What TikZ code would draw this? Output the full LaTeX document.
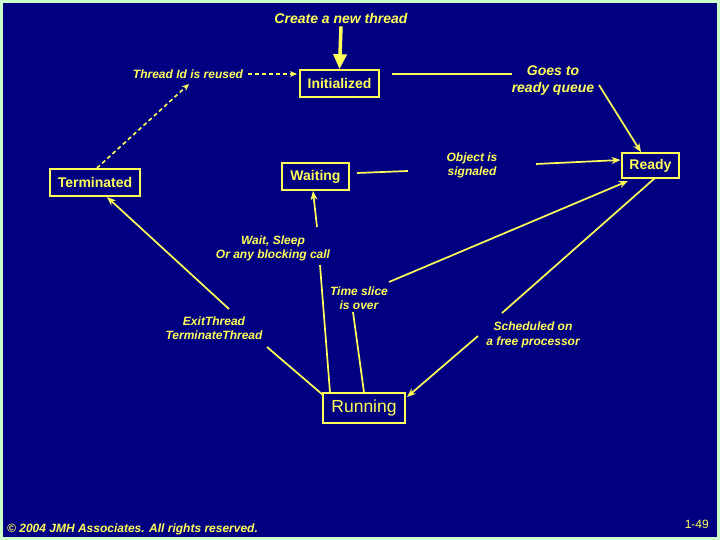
\documentclass[tikz,border=0pt]{standalone}
\usepackage{fontspec}
\setmainfont{Liberation Sans}
\usetikzlibrary{arrows.meta}
\definecolor{navy}{RGB}{0,0,128}
\definecolor{ylw}{RGB}{255,255,90}
\definecolor{pgreen}{RGB}{204,255,204}
\begin{document}
\begin{tikzpicture}[x=1pt,y=-1pt,
  statebox/.style={draw=ylw,line width=1.6pt,text=ylw,inner sep=0pt,font=\fontsize{14}{16}\selectfont\bfseries},
  lbl/.style={text=ylw,align=center,inner sep=1pt,font=\fontsize{12}{14.5}\selectfont\bfseries\itshape},
  conn/.style={draw=ylw,line width=1.7pt},
  arr/.style={conn,-{Stealth[length=9pt,width=7pt]}},
  darr/.style={draw=ylw,line width=1.6pt,dash pattern=on 4pt off 3pt,-{Stealth[length=7pt,width=6pt]}}]
\useasboundingbox (0,0) rectangle (720,540);
\fill[pgreen] (0,0) rectangle (720,540);
\fill[navy] (3,3) rectangle (717,537);

% states
\node[statebox,minimum width=79pt,minimum height=27pt] (init) at (339.5,83.5) {Initialized};
\node[statebox,minimum width=57pt,minimum height=25pt] (ready) at (650.5,165.5) {Ready};
\node[statebox,minimum width=67pt,minimum height=27pt] (wait) at (315.5,176.5) {Waiting};
\node[statebox,minimum width=90pt,minimum height=27pt] (term) at (95,182.5) {Terminated};
\node[statebox,minimum width=82pt,minimum height=30pt,font=\fontsize{17.5}{19}\selectfont] (run) at (364,408) {Running};

% labels
\node[lbl,font=\fontsize{14}{16}\selectfont\bfseries\itshape] (create) at (341,19) {Create a new thread};
\node[lbl] (reused) at (188,74) {Thread Id is reused};
\node[lbl,font=\fontsize{14}{16.5}\selectfont\bfseries\itshape] (goes) at (553,80.5) {Goes to\\ready queue};
\node[lbl] (obj) at (472,165.5) {Object is\\signaled};
\node[lbl] (wsl) at (273,248.5) {Wait, Sleep\\Or any blocking call};
\node[lbl] (tsl) at (359,298) {Time slice\\is over};
\node[lbl] (exitl) at (214,328) {ExitThread\\TerminateThread};
\node[lbl] (sched) at (533,335) {Scheduled on\\a free processor};
\node[lbl,anchor=west] (copy) at (6,529) {© 2004 JMH Associates. All rights reserved.};
\node[text=ylw,anchor=east,inner sep=0pt,font=\fontsize{12}{14}\selectfont] (page) at (709,524.5) {1-49};

% coordinates for broken connectors
\coordinate (c1) at (392,74);
\coordinate (c2) at (512,74);
\coordinate (c3) at (599,85);
\coordinate (c4) at (641,152.2);
\coordinate (w1) at (357,173);
\coordinate (w2) at (408,171);
\coordinate (o1) at (536,164);
\coordinate (o2) at (620.5,160);
\coordinate (s1) at (317,227);
\coordinate (s2) at (313,191);
\coordinate (r1) at (330,392.5);
\coordinate (r2) at (320,265);
\coordinate (t1) at (364,392.5);
\coordinate (t2) at (353,312);
\coordinate (t3) at (389,282);
\coordinate (t4) at (628,181);
\coordinate (q1) at (655,178);
\coordinate (q2) at (502,313);
\coordinate (q3) at (478,336);
\coordinate (q4) at (407,397);
\coordinate (e1) at (323,395);
\coordinate (e2) at (267,347);
\coordinate (e3) at (229,309);
\coordinate (e4) at (107,197);
\coordinate (d1) at (97,168);
\coordinate (d2) at (189,84);
\coordinate (d3) at (248,74);
\coordinate (d4) at (297,74);

% connectors
\draw[draw=ylw,line width=3.5pt,-{Triangle[length=15pt,width=13pt]}] (create.south) ++(0,1) -- (init.north);
\draw[darr] (d3) -- (d4);
\draw[darr] (d1) -- (d2);
\draw[conn] (c1) -- (c2);
\draw[arr] (c3) -- (c4);
\draw[conn] (w1) -- (w2);
\draw[arr] (o1) -- (o2);
\draw[arr] (s1) -- (s2);
\draw[conn] (r1) -- (r2);
\draw[conn] (t1) -- (t2);
\draw[arr] (t3) -- (t4);
\draw[conn] (q1) -- (q2);
\draw[arr] (q3) -- (q4);
\draw[conn] (e1) -- (e2);
\draw[arr] (e3) -- (e4);
\end{tikzpicture}
\end{document}
